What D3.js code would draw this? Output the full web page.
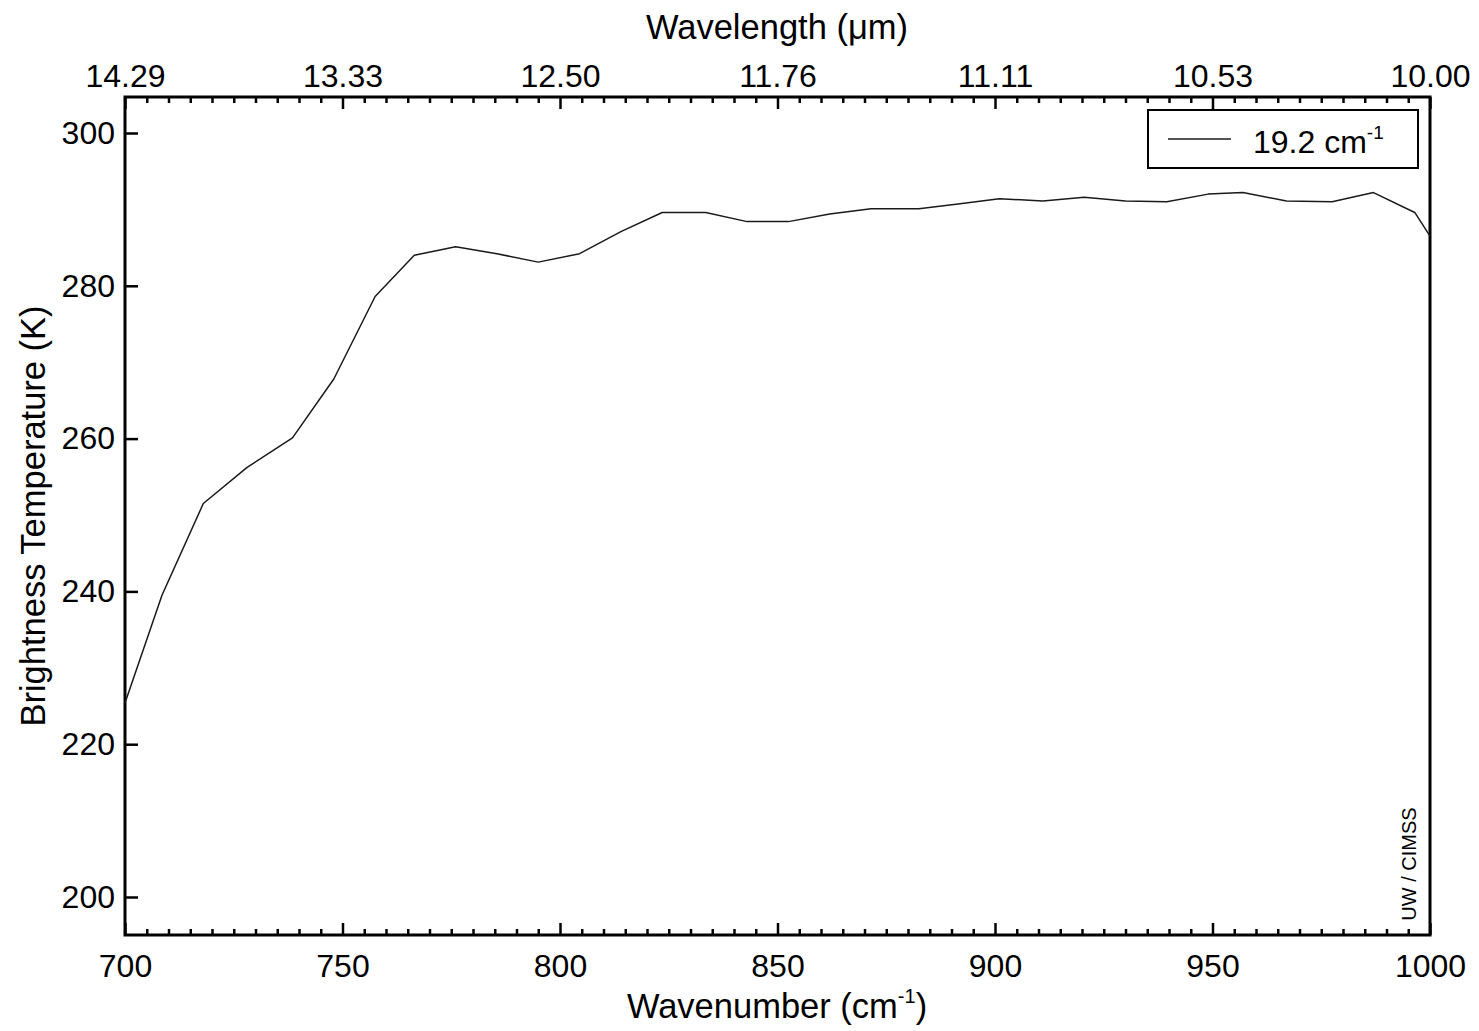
<!DOCTYPE html>
<html>
<head>
<meta charset="utf-8">
<script src="https://cdn.jsdelivr.net/npm/d3@7"></script>
<style>
  html, body { margin: 0; padding: 0; background: #fff; }
  svg text { font-family: "Liberation Sans", Arial, Helvetica, sans-serif; fill: #000; }
</style>
</head>
<body>
<svg id="chart" width="1479" height="1031"></svg>
<script>
// Spectral brightness temperature at 19.2 cm-1 resolution
const wavenumbers = [700, 708.5, 718, 728, 738.5, 748, 757.5, 766.5, 776, 785.5,
  795, 804.5, 814, 823.5, 833.5, 843, 852.5, 862, 871.5, 882.5,
  891.5, 901, 911, 920.5, 930, 939.5, 949, 957, 967, 977.5,
  987, 996.5, 1000];
const brightnessTemp = [225.4, 239.5, 251.5, 256.2, 260.1, 267.8, 278.6, 284.0, 285.1, 284.2,
  283.1, 284.2, 287.1, 289.6, 289.6, 288.4, 288.4, 289.4, 290.1, 290.1,
  290.7, 291.4, 291.1, 291.6, 291.1, 291.0, 292.0, 292.2, 291.1, 291.0,
  292.2, 289.6, 286.5];
const xMajorTicks = [700, 750, 800, 850, 900, 950, 1000];
const yTicks = [200, 220, 240, 260, 280, 300];
const legendLabel = "19.2 cm";

const svg = d3.select("#chart");
const box = { left: 125, right: 1430, top: 97, bottom: 935 };

const x = d3.scaleLinear().domain([700, 1000]).range([box.left, box.right]);
const y = d3.scaleLinear().domain([200, 300]).range([897, 133]);

const minorTicks = d3.range(700, 1000.1, 5).filter(v => !xMajorTicks.includes(v));
const tickFont = 32, titleFont = 34.5;

// bottom axis: wavenumber
const gB = svg.append("g").attr("transform", `translate(0,${box.bottom})`);
gB.call(d3.axisBottom(x).tickValues(xMajorTicks).tickSize(-12).tickPadding(19).tickFormat(d3.format("d")));
const gBm = svg.append("g").attr("transform", `translate(0,${box.bottom})`);
gBm.call(d3.axisBottom(x).tickValues(minorTicks).tickSize(-6).tickFormat(""));

// top axis: wavelength in micrometres
const gT = svg.append("g").attr("transform", `translate(0,${box.top})`);
gT.call(d3.axisTop(x).tickValues(xMajorTicks).tickSize(-12).tickPadding(10).tickFormat(d => (10000 / d).toFixed(2)));
const gTm = svg.append("g").attr("transform", `translate(0,${box.top})`);
gTm.call(d3.axisTop(x).tickValues(minorTicks).tickSize(-6).tickFormat(""));

// left axis: brightness temperature
const gL = svg.append("g").attr("transform", `translate(${box.left},0)`);
gL.call(d3.axisLeft(y).tickValues(yTicks).tickSize(-13).tickPadding(10).tickFormat(d3.format("d")));

svg.selectAll(".domain").remove();
svg.selectAll(".tick line").attr("stroke", "#000").attr("stroke-width", 2.5);
svg.selectAll(".tick text").attr("font-size", tickFont).attr("font-family", null).attr("fill", "#000");

// plot frame
svg.append("rect")
  .attr("x", box.left).attr("y", box.top)
  .attr("width", box.right - box.left).attr("height", box.bottom - box.top)
  .attr("fill", "none").attr("stroke", "#000").attr("stroke-width", 3);

// spectrum
const line = d3.line().x((d, i) => x(wavenumbers[i])).y(d => y(d));
svg.append("path")
  .datum(brightnessTemp)
  .attr("d", line)
  .attr("fill", "none")
  .attr("stroke", "#1a1a1a")
  .attr("stroke-width", 1.5)
  .attr("stroke-linejoin", "round");

// legend
const lg = svg.append("g");
lg.append("rect").attr("x", 1148).attr("y", 110).attr("width", 270).attr("height", 58)
  .attr("fill", "#fff").attr("stroke", "#000").attr("stroke-width", 2);
lg.append("line").attr("x1", 1168).attr("x2", 1231).attr("y1", 139).attr("y2", 139)
  .attr("stroke", "#1a1a1a").attr("stroke-width", 1.5);
const lt = lg.append("text").attr("x", 1253).attr("y", 153).attr("font-size", 32);
lt.append("tspan").text(legendLabel);
lt.append("tspan").attr("font-size", 19).attr("dy", -14).text("-1");

// axis titles
const xt = svg.append("text").attr("x", 777).attr("y", 1018).attr("text-anchor", "middle").attr("font-size", titleFont);
xt.append("tspan").text("Wavenumber (cm");
xt.append("tspan").attr("font-size", 20).attr("dy", -15).text("-1");
xt.append("tspan").attr("dy", 15).text(")");

svg.append("text").attr("x", 777).attr("y", 39).attr("text-anchor", "middle").attr("font-size", titleFont)
  .text("Wavelength (\u03bcm)");

svg.append("text").attr("transform", "translate(45,516) rotate(-90)")
  .attr("text-anchor", "middle").attr("font-size", titleFont)
  .text("Brightness Temperature (K)");

// credit
svg.append("text").attr("transform", "translate(1416,864) rotate(-90)")
  .attr("text-anchor", "middle").attr("font-size", 20)
  .text("UW / CIMSS");
</script>
</body>
</html>
